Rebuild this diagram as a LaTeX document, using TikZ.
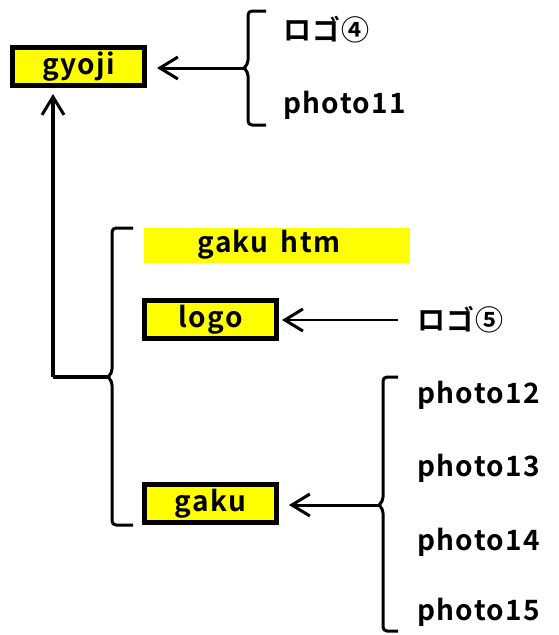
\documentclass[tikz,border=0pt]{standalone}
\usepackage{fontspec}
\setmainfont{Noto Sans CJK JP}[BoldFont={* Bold}, LetterSpace=5, WordSpace=1.6]
\usetikzlibrary{arrows.meta}
\definecolor{hl}{RGB}{255,255,0}
\tikzset{
  txt/.style={font=\fontsize{28}{30}\selectfont\bfseries},
  box/.style={draw=black, line width=5pt, fill=hl, minimum width=132pt, minimum height=38pt, inner sep=0pt, txt},
  lbl/.style={anchor=west, inner sep=0pt, txt},
  brace/.style={line width=3pt, rounded corners=4pt},
  tip/.style={-{Straight Barb[length=18pt,width=22pt,line width=3pt]}},
  conn/.style={line width=3pt, tip},
}
\begin{document}
\begin{tikzpicture}[x=1pt,y=-1pt]
\useasboundingbox (0,0) rectangle (558,635);
% boxes
\node[box] (gyoji) at (78.5,66.5) {gyoji};
\node[box] (logo) at (210.5,319.5) {logo};
\node[box] (gaku) at (210.5,503.5) {gaku};
\node[fill=hl, minimum width=266pt, minimum height=35pt, inner sep=0pt] (htmbox) at (277,245.5) {};
\node[inner sep=0pt, txt] (htm) at (269,245) {gaku htm};
% labels
\node[lbl] (logo4) at (283,30) {ロゴ④};
\node[lbl] (p11) at (283,105) {photo11};
\node[lbl] (logo5) at (417,320) {ロゴ⑤};
\node[lbl] (p12) at (417,395) {photo12};
\node[lbl] (p13) at (417,468) {photo13};
\node[lbl] (p14) at (417,542) {photo14};
\node[lbl] (p15) at (417,612) {photo15};
% brace 1
\coordinate (b1) at (244,68);
\draw[brace] (266,11) -- (248,11) -- (248,64) -- (b1);
\draw[brace] (b1) -- (248,72) -- (248,125) -- (266,125);
\draw[conn, shorten >=10pt] (b1) -- (gyoji.east |- b1);
% big left brace
\coordinate (b2) at (108,377);
\draw[brace] (133,228) -- (112,228) -- (112,373) -- (b2);
\draw[brace] (b2) -- (112,381) -- (112,525) -- (133,525);
\coordinate (corner) at (53,377);
\draw[line width=3.5pt] (b2) -- (corner);
\draw[line width=3.5pt, tip, shorten >=6pt] (corner) -- (gyoji.south -| corner);
% logo arrow
\coordinate (l5) at (398,320);
\draw[line width=2.5pt, tip, shorten >=3pt] (l5) -- (logo.east |- l5);
% right brace
\coordinate (b3) at (379,505);
\draw[brace] (398,377) -- (383,377) -- (383,501) -- (b3);
\draw[brace] (b3) -- (383,509) -- (383,631) -- (398,631);
\draw[conn, shorten >=10pt] (b3) -- (gaku.east |- b3);
\end{tikzpicture}
\end{document}
